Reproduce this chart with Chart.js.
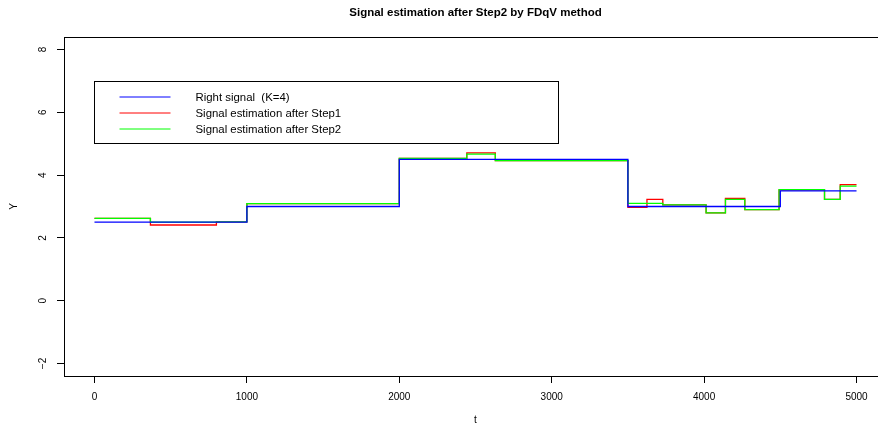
<!DOCTYPE html>
<html>
<head>
<meta charset="utf-8">
<script src="https://cdn.jsdelivr.net/npm/chart.js@4.4.1/dist/chart.umd.min.js"></script>
<style>
  html, body { margin: 0; padding: 0; background: #fff; overflow: hidden; }
  #wrap { width: 878px; height: 425px; overflow: hidden; }
</style>
</head>
<body>
<div id="wrap"><canvas id="chartCanvas" width="900" height="425"></canvas></div>
<script>
const FONT = "'Liberation Sans', Arial, Helvetica, sans-serif";

// step signals: value holds from t[i] until t[i+1]
const rightT = [0, 1000, 2000, 3500, 4500, 5000];
const rightY = [2.5, 3.0, 4.5, 3.0, 3.5, 3.5];

const step1T = [0, 367, 800, 1000, 2000, 2443, 2630, 3500, 3625, 3729, 4013, 4140, 4267, 4492, 4790, 4893, 5000];
const step1Y = [2.62, 2.41, 2.51, 3.09, 4.53, 4.71, 4.46, 2.97, 3.23, 3.05, 2.80, 3.26, 2.90, 3.53, 3.23, 3.70, 3.70];

const step2T = [0, 367, 800, 1000, 2000, 2443, 2630, 3500, 3729, 4013, 4140, 4267, 4492, 4790, 4893, 5000];
const step2Y = [2.62, 2.5, 2.51, 3.09, 4.53, 4.67, 4.46, 3.10, 3.05, 2.80, 3.23, 2.90, 3.54, 3.23, 3.65, 3.65];

const xTicks = [0, 1000, 2000, 3000, 4000, 5000];
const xTickLabels = ['0', '1000', '2000', '3000', '4000', '5000'];
const yTicks = [-2, 0, 2, 4, 6, 8];
const yTickLabels = ['\u22122', '0', '2', '4', '6', '8'];

const seriesNames = ['Right signal  (K=4)', 'Signal estimation after Step1', 'Signal estimation after Step2'];
const seriesColors = ['#0000ff', '#ff0000', '#00ff00'];

const toPoints = (ts, ys) => ts.map((t, i) => ({ x: t, y: ys[i] }));

// box, title and the boxed legend drawn R-style
const rFrame = {
    id: 'rFrame',
    afterDraw(chart) {
        const { ctx, chartArea: a, scales } = chart;
        ctx.save();
        ctx.strokeStyle = '#000';
        ctx.lineWidth = 1;
        ctx.strokeRect(Math.round(a.left) + 0.5, Math.round(a.top) + 0.5,
            Math.round(a.right - a.left), Math.round(a.bottom - a.top));

        ctx.fillStyle = '#000';
        ctx.font = 'bold 11.5px ' + FONT;
        ctx.textAlign = 'center';
        ctx.textBaseline = 'middle';
        ctx.fillText('Signal estimation after Step2 by FDqV method', (a.left + a.right) / 2, 13);

        const lx = Math.round(scales.x.getPixelForValue(0)) + 0.5;
        const ly = Math.round(scales.y.getPixelForValue(7)) + 0.5;
        ctx.strokeRect(lx, ly, 464, 62);
        ctx.font = '11.4px ' + FONT;
        ctx.textAlign = 'left';
        seriesNames.forEach((name, i) => {
            const ry = Math.round(ly + 15 + i * 16);
            ctx.strokeStyle = seriesColors[i];
            ctx.beginPath();
            ctx.moveTo(lx + 25, ry);
            ctx.lineTo(lx + 76, ry);
            ctx.stroke();
            ctx.fillText(name, lx + 101, ry + 0.5);
        });
        ctx.restore();
    }
};

const tickGrid = { drawOnChartArea: false, drawTicks: true, tickLength: 7, color: '#000', lineWidth: 1 };

new Chart(document.getElementById('chartCanvas'), {
    type: 'line',
    data: {
        datasets: [
            { label: seriesNames[0], data: toPoints(rightT, rightY), borderColor: seriesColors[0], order: 0 },
            { label: seriesNames[1], data: toPoints(step1T, step1Y), borderColor: seriesColors[1], order: 2 },
            { label: seriesNames[2], data: toPoints(step2T, step2Y), borderColor: seriesColors[2], order: 1 }
        ]
    },
    options: {
        responsive: false,
        animation: false,
        devicePixelRatio: 1,
        datasets: {
            line: { stepped: 'before', borderWidth: 1.3, pointRadius: 0, fill: false, tension: 0 }
        },
        layout: { autoPadding: false, padding: { top: 37, left: 0, right: 13, bottom: 0 } },
        plugins: { legend: { display: false }, title: { display: false }, tooltip: { enabled: false } },
        scales: {
            x: {
                type: 'linear',
                min: -200,
                max: 5200,
                afterBuildTicks: s => { s.ticks = xTicks.map(v => ({ value: v })); },
                afterFit: s => { s.height = 49; },
                grid: tickGrid,
                border: { display: false },
                ticks: {
                    color: '#000', font: { family: FONT, size: 10 }, padding: 8, maxRotation: 0,
                    callback: (v, i) => xTickLabels[i]
                },
                title: { display: true, text: 't', color: '#000', font: { family: FONT, size: 10 }, padding: { top: 0, bottom: -1 } }
            },
            y: {
                type: 'linear',
                min: -2.4,
                max: 8.4,
                afterBuildTicks: s => { s.ticks = yTicks.map(v => ({ value: v })); },
                afterFit: s => { s.width = 64; },
                grid: tickGrid,
                border: { display: false },
                ticks: {
                    color: '#000', font: { family: FONT, size: 10 }, padding: 8,
                    minRotation: 90, maxRotation: 90, crossAlign: 'center',
                    callback: (v, i) => yTickLabels[i]
                },
                title: { display: true, text: 'Y', color: '#000', font: { family: FONT, size: 10 }, padding: { top: 8, bottom: 0 } }
            }
        }
    },
    plugins: [rFrame]
});
</script>
</body>
</html>
